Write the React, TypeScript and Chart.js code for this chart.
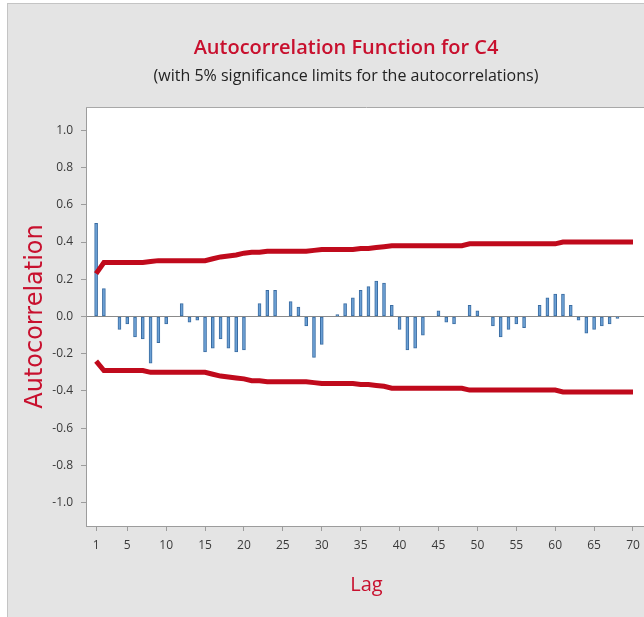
import React, { useEffect, useRef } from 'react';
import { Chart, registerables } from 'chart.js';

Chart.register(...registerables);

const TITLE = 'Autocorrelation Function for C4';
const SUBTITLE = '(with 5% significance limits for the autocorrelations)';
const X_TITLE = 'Lag';
const Y_TITLE = 'Autocorrelation';

const lags = [
  1, 2, 3, 4, 5, 6, 7, 8, 9, 10,
  11, 12, 13, 14, 15, 16, 17, 18, 19, 20,
  21, 22, 23, 24, 25, 26, 27, 28, 29, 30,
  31, 32, 33, 34, 35, 36, 37, 38, 39, 40,
  41, 42, 43, 44, 45, 46, 47, 48, 49, 50,
  51, 52, 53, 54, 55, 56, 57, 58, 59, 60,
  61, 62, 63, 64, 65, 66, 67, 68, 69, 70,
];

const acf = [
  0.50, 0.15, 0.00, -0.07, -0.04, -0.11, -0.12, -0.25, -0.14, -0.04,
  0.00, 0.07, -0.03, -0.02, -0.19, -0.17, -0.12, -0.17, -0.19, -0.18,
  0.00, 0.07, 0.14, 0.14, 0.00, 0.08, 0.05, -0.05, -0.22, -0.15,
  0.00, 0.01, 0.07, 0.10, 0.14, 0.16, 0.19, 0.18, 0.06, -0.07,
  -0.18, -0.17, -0.10, 0.00, 0.03, -0.03, -0.04, 0.00, 0.06, 0.03,
  0.00, -0.05, -0.11, -0.07, -0.04, -0.06, 0.00, 0.06, 0.10, 0.12,
  0.12, 0.06, -0.02, -0.09, -0.07, -0.05, -0.04, -0.01, 0.00, 0.00,
];

const upperLimit = [
  0.23, 0.29, 0.29, 0.29, 0.29, 0.29, 0.29, 0.295, 0.30, 0.30,
  0.30, 0.30, 0.30, 0.30, 0.30, 0.31, 0.32, 0.325, 0.33, 0.34,
  0.345, 0.345, 0.35, 0.35, 0.35, 0.35, 0.35, 0.35, 0.355, 0.36,
  0.36, 0.36, 0.36, 0.36, 0.365, 0.365, 0.37, 0.375, 0.38, 0.38,
  0.38, 0.38, 0.38, 0.38, 0.38, 0.38, 0.38, 0.38, 0.39, 0.39,
  0.39, 0.39, 0.39, 0.39, 0.39, 0.39, 0.39, 0.39, 0.39, 0.39,
  0.40, 0.40, 0.40, 0.40, 0.40, 0.40, 0.40, 0.40, 0.40, 0.40,
];

const lowerLimit = [
  -0.24, -0.29, -0.29, -0.29, -0.29, -0.29, -0.29, -0.30, -0.30, -0.30,
  -0.30, -0.30, -0.30, -0.30, -0.30, -0.31, -0.32, -0.325, -0.33, -0.335,
  -0.345, -0.345, -0.35, -0.35, -0.35, -0.35, -0.35, -0.35, -0.355, -0.36,
  -0.36, -0.36, -0.36, -0.36, -0.365, -0.365, -0.37, -0.375, -0.385, -0.385,
  -0.385, -0.385, -0.385, -0.385, -0.385, -0.385, -0.385, -0.385, -0.395, -0.395,
  -0.395, -0.395, -0.395, -0.395, -0.395, -0.395, -0.395, -0.395, -0.395, -0.395,
  -0.405, -0.405, -0.405, -0.405, -0.405, -0.405, -0.405, -0.405, -0.405, -0.405,
];

const yTicks = [-1.0, -0.8, -0.6, -0.4, -0.2, 0.0, 0.2, 0.4, 0.6, 0.8, 1.0];
const xTicks = [1, 5, 10, 15, 20, 25, 30, 35, 40, 45, 50, 55, 60, 65, 70];

const RED = '#c8102e';
const LIMIT_RED = '#c00a1c';
const AXIS_GRAY = '#9c9c9c';
const TICK_TEXT = '#3a3a3a';

const plotFrame = {
  id: 'plotFrame',
  beforeDraw(chart: any) {
    const { ctx, chartArea } = chart;
    ctx.save();
    ctx.fillStyle = '#ffffff';
    ctx.fillRect(chartArea.left, chartArea.top, chartArea.right - chartArea.left, chartArea.bottom - chartArea.top);
    ctx.restore();
  },
  afterDraw(chart: any) {
    const { ctx, chartArea } = chart;
    ctx.save();
    ctx.strokeStyle = '#a8a8a8';
    ctx.lineWidth = 1;
    ctx.beginPath();
    ctx.moveTo(chartArea.left, chartArea.top + 0.5);
    ctx.lineTo(chartArea.right, chartArea.top + 0.5);
    ctx.stroke();
    ctx.restore();
  },
};

export default function App() {
  const canvasRef = useRef<HTMLCanvasElement | null>(null);

  useEffect(() => {
    const canvas = canvasRef.current;
    if (!canvas) return;
    const chart = new Chart(canvas, {
      type: 'bar',
      data: {
        datasets: [
          {
            type: 'line',
            label: 'Upper limit',
            data: lags.map((l, i) => ({ x: l, y: upperLimit[i] })),
            borderColor: LIMIT_RED,
            borderWidth: 5,
            pointRadius: 0,
            tension: 0,
            fill: false,
            order: 1,
          } as any,
          {
            type: 'line',
            label: 'Lower limit',
            data: lags.map((l, i) => ({ x: l, y: lowerLimit[i] })),
            borderColor: LIMIT_RED,
            borderWidth: 5,
            pointRadius: 0,
            tension: 0,
            fill: false,
            order: 1,
          } as any,
          {
            type: 'bar',
            label: 'ACF',
            data: lags.map((l, i) => ({ x: l, y: acf[i] })),
            backgroundColor: '#6a9fd4',
            borderColor: '#3a6ca2',
            borderWidth: 1,
            borderSkipped: false,
            barThickness: 3,
            order: 2,
          } as any,
        ],
      },
      options: {
        responsive: false,
        animation: false,
        devicePixelRatio: 1,
        layout: { padding: { left: 38, right: 40, top: 0, bottom: 0 } },
        plugins: {
          legend: { display: false },
          tooltip: { enabled: false },
          title: {
            display: true,
            text: TITLE,
            color: RED,
            font: { family: "'Open Sans', sans-serif", size: 20, weight: '600' as any, lineHeight: 1.2 },
            padding: { top: 33, bottom: 0 },
          },
          subtitle: {
            display: true,
            text: SUBTITLE,
            color: '#222222',
            font: { family: "'Open Sans', sans-serif", size: 16, lineHeight: 1.2 },
            padding: { top: 6.4, bottom: 21.4 },
          },
        },
        scales: {
          x: {
            type: 'linear',
            min: -0.3,
            max: 71.8,
            offset: false,
            afterBuildTicks: (s: any) => {
              s.ticks = xTicks.map((v) => ({ value: v }));
            },
            afterFit: (s: any) => {
              s.height = 91;
            },
            grid: {
              display: true,
              drawOnChartArea: false,
              drawTicks: true,
              tickLength: 5,
              tickColor: AXIS_GRAY,
              offset: false,
            },
            border: { display: true, color: AXIS_GRAY },
            ticks: {
              autoSkip: false,
              maxRotation: 0,
              padding: 7,
              color: TICK_TEXT,
              font: { family: "'Open Sans', sans-serif", size: 12 },
              callback: (v: any) => String(v),
            },
            title: {
              display: true,
              text: X_TITLE,
              color: RED,
              font: { family: "'Open Sans', sans-serif", size: 20, lineHeight: 1.2 },
              padding: { top: 0, bottom: 20 },
            },
          },
          y: {
            type: 'linear',
            min: -1.125,
            max: 1.125,
            afterBuildTicks: (s: any) => {
              s.ticks = yTicks.map((v) => ({ value: v }));
            },
            afterFit: (s: any) => {
              s.width = 41;
            },
            grid: {
              display: true,
              drawOnChartArea: true,
              drawTicks: true,
              tickLength: 5,
              tickColor: AXIS_GRAY,
              color: (ctx: any) => (ctx.tick && Math.abs(ctx.tick.value) < 1e-9 ? '#8a8a8a' : 'rgba(0,0,0,0)'),
              lineWidth: 1,
            },
            border: { display: true, color: AXIS_GRAY },
            ticks: {
              padding: 8,
              color: TICK_TEXT,
              font: { family: "'Open Sans', sans-serif", size: 12 },
              callback: (v: any) => Number(v).toFixed(1),
            },
            title: {
              display: true,
              text: Y_TITLE,
              color: RED,
              font: { family: "'DejaVu Sans', sans-serif", size: 24, lineHeight: 1.2 },
              padding: { top: -23.9, bottom: 0 },
            },
          },
        },
      },
      plugins: [plotFrame],
    });
    return () => chart.destroy();
  }, []);

  return (
    <div
      style={{
        position: 'absolute',
        left: 7,
        top: 3,
        width: 637,
        height: 614,
        overflow: 'hidden',
        background: '#e4e4e4',
        boxShadow: 'inset 1px 1px 0 #c4c4c4',
      }}
    >
      <canvas ref={canvasRef} width={680} height={614} style={{ display: 'block', width: 680, height: 614 }} />
    </div>
  );
}
